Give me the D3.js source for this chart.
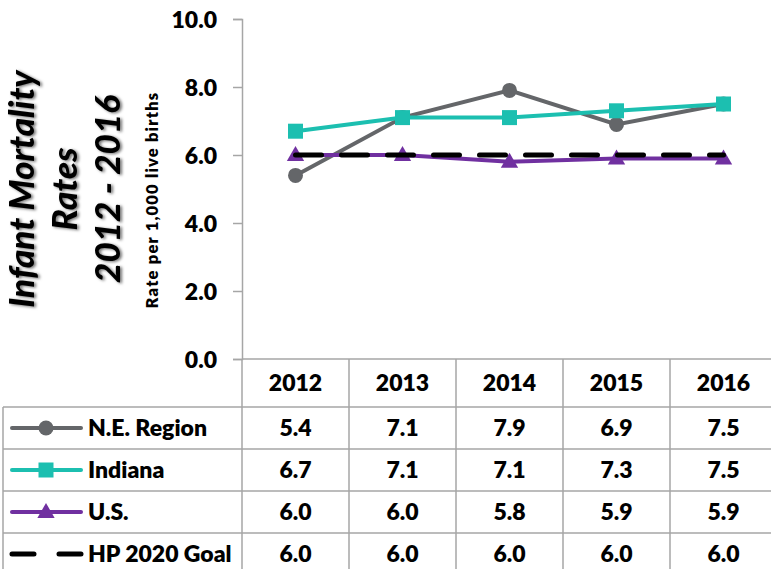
<!DOCTYPE html>
<html lang="en">
<head>
<meta charset="UTF-8" />
<title>Infant Mortality Rates</title>
<style>
  body { margin: 0; background: #fff; }
  text { font-family: Lato, "Open Sans", sans-serif; font-weight: 800; fill: #000; }
</style>
</head>
<body>
<svg id="svg" width="771" height="569"></svg>
<script src="https://d3js.org/d3.v7.min.js"></script>
<script>
const years = ['2012', '2013', '2014', '2015', '2016'];
const neRegion = [5.4, 7.1, 7.9, 6.9, 7.5];
const indiana = [6.7, 7.1, 7.1, 7.3, 7.5];
const us = [6.0, 6.0, 5.8, 5.9, 5.9];
const hpGoal = [6.0, 6.0, 6.0, 6.0, 6.0];
const yTicks = [0, 2, 4, 6, 8, 10];

const series = [
  { name: 'N.E. Region', values: neRegion, color: '#646669', marker: 'circle', dash: null },
  { name: 'Indiana', values: indiana, color: '#1cbfb0', marker: 'square', dash: null },
  { name: 'U.S.', values: us, color: '#7030a0', marker: 'triangle', dash: null },
  { name: 'HP 2020 Goal', values: hpGoal, color: '#000000', marker: null, dash: '26,20' }
];

const svg = d3.select('#svg');
const gridColor = '#a6a6a6';

const x = d3.scaleBand().domain(years).range([242, 777]);
const y = d3.scaleLinear().domain([0, 10]).range([359, 19]);

// y axis
const yAxis = svg.append('g')
  .attr('transform', 'translate(242,0)')
  .call(d3.axisLeft(y).tickValues(yTicks).tickSize(9).tickFormat(d3.format('.1f')));
yAxis.select('.domain').attr('stroke', gridColor).attr('stroke-width', 1.5);
yAxis.selectAll('.tick line').attr('stroke', gridColor).attr('stroke-width', 1.5);
yAxis.selectAll('.tick text')
  .attr('x', -25)
  .attr('dy', '0.36em')
  .style('font-size', '23px')
  .style('font-family', 'Lato, sans-serif')
  .style('font-weight', '800');

// y axis title
svg.append('text')
  .attr('transform', 'translate(158,200) rotate(-90)')
  .attr('text-anchor', 'middle')
  .style('font-size', '16.5px')
  .style('letter-spacing', '1.2px')
  .text('Rate per 1,000 live births');

// main title, rotated with shadow
const defs = svg.append('defs');
defs.append('filter').attr('id', 'shadow')
  .attr('x', '-20%').attr('y', '-20%').attr('width', '140%').attr('height', '140%')
  .append('feDropShadow')
  .attr('dx', 2).attr('dy', 1).attr('stdDeviation', 1.6)
  .attr('flood-color', '#000').attr('flood-opacity', 0.55);

const titleLines = ['Infant Mortality', 'Rates', '2012 - 2016'];
const title = svg.append('g').attr('filter', 'url(#shadow)')
  .append('g').attr('transform', 'translate(65,189) rotate(-90)');
title.selectAll('text').data(titleLines).enter().append('text')
  .attr('text-anchor', 'middle')
  .attr('x', 0)
  .attr('y', (d, i) => (i - 1) * 43 + 12)
  .style('font-size', '35px')
  .style('font-style', 'italic')
  .style('font-weight', '900')
  .text(d => d);

// table grid
const tableTop = 359;
const headerBottom = 407;
const rowH = 42;
const tableLeft = 3;
const table = svg.append('g');
const colEdges = years.map(d => x(d)).concat([x.range()[1]]);
const tableBottom = headerBottom + rowH * series.length;

colEdges.forEach(cx => {
  table.append('line')
    .attr('x1', cx).attr('x2', cx)
    .attr('y1', tableTop).attr('y2', tableBottom)
    .attr('stroke', gridColor).attr('stroke-width', 1.5);
});
table.append('line')
  .attr('x1', tableLeft).attr('x2', tableLeft)
  .attr('y1', headerBottom).attr('y2', tableBottom)
  .attr('stroke', gridColor).attr('stroke-width', 1.5);
table.append('line')
  .attr('x1', 242).attr('x2', 777)
  .attr('y1', tableTop).attr('y2', tableTop)
  .attr('stroke', gridColor).attr('stroke-width', 1.5);
d3.range(series.length + 1).forEach(i => {
  table.append('line')
    .attr('x1', tableLeft).attr('x2', 777)
    .attr('y1', headerBottom + i * rowH).attr('y2', headerBottom + i * rowH)
    .attr('stroke', gridColor).attr('stroke-width', 1.5);
});

// header years
table.selectAll('.yr').data(years).enter().append('text')
  .attr('x', d => x(d) + x.bandwidth() / 2)
  .attr('y', (tableTop + headerBottom) / 2)
  .attr('dy', '0.36em')
  .attr('text-anchor', 'middle')
  .style('font-size', '23px')
  .text(d => d);

// marker helper
function drawMarker(g, type, cx, cy, color) {
  if (type === 'circle') {
    g.append('circle').attr('cx', cx).attr('cy', cy).attr('r', 7.5).attr('fill', color);
  } else if (type === 'square') {
    g.append('rect').attr('x', cx - 7.5).attr('y', cy - 7.5)
      .attr('width', 15).attr('height', 15).attr('fill', color);
  } else if (type === 'triangle') {
    g.append('path')
      .attr('d', d3.symbol().type(d3.symbolTriangle).size(130)())
      .attr('transform', `translate(${cx},${cy + 1})`)
      .attr('fill', color);
  }
}

const line = d3.line()
  .x((d, i) => x(years[i]) + x.bandwidth() / 2)
  .y(d => y(d));

// series lines and markers
series.forEach(s => {
  const g = svg.append('g');
  g.append('path')
    .attr('d', line(s.values))
    .attr('fill', 'none')
    .attr('stroke', s.color)
    .attr('stroke-width', s.dash ? 5 : 4)
    .attr('stroke-linecap', 'round')
    .attr('stroke-dasharray', s.dash);
  if (s.marker) {
    s.values.forEach((v, i) => drawMarker(g, s.marker, x(years[i]) + x.bandwidth() / 2, y(v), s.color));
  }
});

// table rows: legend + values
series.forEach((s, r) => {
  const cy = headerBottom + r * rowH + rowH / 2;
  const g = table.append('g');
  g.append('line')
    .attr('x1', 12).attr('x2', 81)
    .attr('y1', cy).attr('y2', cy)
    .attr('stroke', s.color)
    .attr('stroke-width', s.dash ? 5 : 4)
    .attr('stroke-linecap', 'round')
    .attr('stroke-dasharray', s.dash ? '22,25' : null);
  if (s.marker) drawMarker(g, s.marker, 46, cy, s.color);
  g.append('text')
    .attr('x', 88).attr('y', cy)
    .attr('dy', '0.36em')
    .style('font-size', '23px')
    .text(s.name);
  g.selectAll('.val').data(s.values).enter().append('text')
    .attr('x', (d, i) => x(years[i]) + x.bandwidth() / 2)
    .attr('y', cy)
    .attr('dy', '0.36em')
    .attr('text-anchor', 'middle')
    .style('font-size', '23px')
    .text(d => d3.format('.1f')(d));
});
</script>
</body>
</html>
